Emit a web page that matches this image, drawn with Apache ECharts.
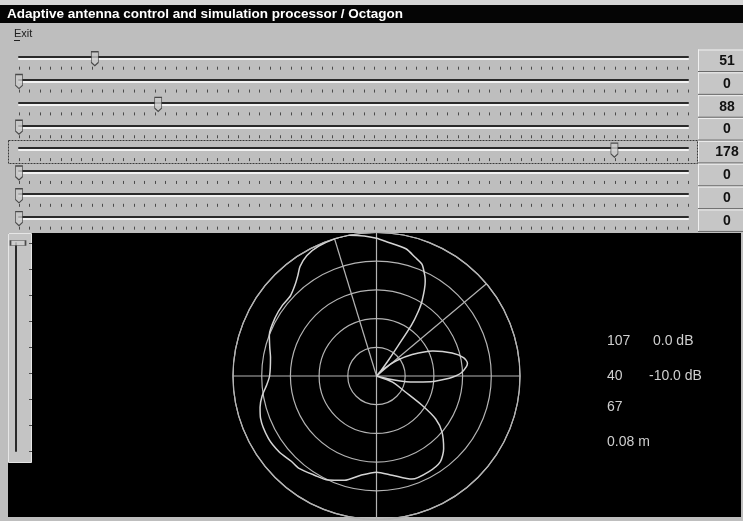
<!DOCTYPE html>
<html>
<head>
<meta charset="utf-8">
<script src="https://cdn.jsdelivr.net/npm/echarts@6/dist/echarts.min.js"></script>
<style>
  html, body { margin: 0; padding: 0; background: #bebebe; }
  #main { width: 743px; height: 521px; }
</style>
</head>
<body>
<div id="main"></div>
<script>
// --- data ---
var titleText = 'Adaptive antenna control and simulation processor / Octagon';
var menuText = 'Exit';

var sliderValues = [51, 0, 88, 0, 178, 0, 0, 0];
var sliderMax = [450, 450, 423, 423, 200, 200, 200, 200];
var sliderTickCount = 64;
var selectedSlider = 4;

var sideSliderValue = 0;
var sideSliderTicks = 8;

// antenna pattern, angle in degrees (ccw from east), level in % of outer ring
var patternAngles = [0, 2, 6, 8, 12, 17, 24, 31, 38, 43, 48, 51, 53, 54.5, 55.5, 57, 58.7, 62.7, 64, 67.8,
  72, 77, 86, 90, 95, 101, 107, 114, 120, 125, 128, 132, 137, 143, 150, 159, 165, 170, 180, 185,
  190, 195, 200, 210, 218, 225, 230, 238, 245, 253, 261, 270, 279, 289, 298.5, 306.6, 312.7, 319.5,
  324, 327.2, 331, 339, 344, 346, 348, 350, 354, 358, 360];
var patternLevels = [55, 59, 63, 64, 62, 55, 43, 29, 17, 8, 0, 5.5, 14, 26, 43, 53, 61, 74, 77, 84,
  87, 91, 94, 96, 98, 100, 100, 99, 97, 93, 89, 85, 82, 82, 81.5, 80, 77, 75, 74.5, 77,
  81, 84, 86, 87, 86, 84, 84, 81.5, 80, 76, 70, 67, 70, 76, 76, 74.5, 69, 60,
  51, 38, 23, 12, 0, 8, 17, 24, 38, 50, 55];

var markerAngles = [107, 40];
var markerLevels = ['0.0 dB', '-10.0 dB'];
var beamSeparation = 67;
var elementSpacing = '0.08 m';

// --- chart ---
var chart = echarts.init(document.getElementById('main'));

var thumbPath = 'path://M0,0 L6,0 L6,10 L3,13 L0,10 Z';
var grids = [], xAxes = [], yAxes = [], series = [];

sliderValues.forEach(function (v, i) {
  var top = 56.7 + i * 22.85;
  grids.push({ left: 19, right: 55, top: top, height: 13, containLabel: false, outerBoundsMode: 'none' });
  xAxes.push({
    gridIndex: i, type: 'value', min: 0, max: sliderMax[i], position: 'top',
    axisLine: { show: true, onZero: false, lineStyle: { color: '#2a2a2a', width: 2, shadowColor: '#f2f2f2', shadowOffsetY: 2 } },
    axisTick: { show: false }, axisLabel: { show: false }, splitLine: { show: false }
  });
  xAxes.push({
    gridIndex: i, type: 'value', min: 0, max: sliderTickCount, interval: 1, position: 'bottom',
    axisLine: { show: false, onZero: false },
    axisTick: { show: true, inside: true, length: 3, lineStyle: { color: '#4a4a4a' } },
    axisLabel: { show: false }, splitLine: { show: false }
  });
  yAxes.push({ gridIndex: i, type: 'value', min: 0, max: 1, show: false });
  series.push({
    type: 'scatter', xAxisIndex: 2 * i, yAxisIndex: i, data: [[v, 1]],
    symbol: thumbPath, symbolSize: [7, 14], symbolOffset: [0, 2], clip: false, silent: true,
    itemStyle: { color: '#cacaca', borderColor: '#2a2a2a', borderWidth: 1 }, z: 5
  });
});

// vertical slider on the left
var sideGrid = grids.length;
grids.push({ left: 16, top: 243, width: 13, height: 208, containLabel: false, outerBoundsMode: 'none' });
xAxes.push({ gridIndex: sideGrid, type: 'value', min: 0, max: 1, show: false });
yAxes.push({
  gridIndex: sideGrid, type: 'value', min: 0, max: sideSliderTicks, inverse: true, position: 'left',
  axisLine: { show: true, onZero: false, lineStyle: { color: '#2a2a2a', width: 2 } },
  axisTick: { show: false }, axisLabel: { show: false }, splitLine: { show: false }
});
yAxes.push({
  gridIndex: sideGrid, type: 'value', min: 0, max: sideSliderTicks, interval: 1, inverse: true, position: 'right',
  axisLine: { show: false, onZero: false },
  axisTick: { show: true, length: 3, lineStyle: { color: '#4a4a4a' } },
  axisLabel: { show: false }, splitLine: { show: false }
});
series.push({
  type: 'scatter', xAxisIndex: xAxes.length - 1, yAxisIndex: yAxes.length - 2,
  data: [[0, sideSliderValue]], symbol: 'rect', symbolSize: [15, 5], symbolOffset: [2, 0],
  clip: false, silent: true, itemStyle: { color: '#d0d0d0', borderColor: '#2a2a2a', borderWidth: 1 }, z: 5
});

// polar pattern
var ringColor = '#b4b4b4';
series.push({
  type: 'line', coordinateSystem: 'polar', polarIndex: 0,
  data: patternAngles.map(function (a, i) { return [patternLevels[i], a]; }),
  showSymbol: false, smooth: 0.25, silent: true,
  lineStyle: { color: '#d4d4d4', width: 1.5 }, z: 4
});
markerAngles.forEach(function (a) {
  series.push({
    type: 'line', coordinateSystem: 'polar', polarIndex: 0,
    data: [[0, a], [100, a]], showSymbol: false, silent: true,
    lineStyle: { color: ringColor, width: 1.2 }, z: 3
  });
});

// static window chrome + texts
var graphics = [
  { type: 'rect', shape: { x: 0, y: 0, width: 743, height: 5 }, style: { fill: '#d6d6d6' }, z: -10 },
  { type: 'rect', shape: { x: 0, y: 5, width: 743, height: 18 }, style: { fill: '#050505' }, z: -10 },
  { type: 'text', x: 7, y: 14, style: { text: titleText, fill: '#ffffff', font: 'bold 13.5px "Liberation Sans", Arial, sans-serif', textVerticalAlign: 'middle' }, z: 100 },
  { type: 'text', x: 14, y: 34, style: { text: menuText, fill: '#202020', font: '11px "Liberation Sans", Arial, sans-serif', textVerticalAlign: 'middle' }, z: 100 },
  { type: 'line', shape: { x1: 14, y1: 40.5, x2: 20, y2: 40.5 }, style: { stroke: '#202020', lineWidth: 1 }, z: 100 },
  { type: 'rect', shape: { x: 8.5, y: 140.5, width: 689, height: 23 }, style: { fill: null, stroke: '#3a3a3a', lineWidth: 1, lineDash: [2, 1] }, z: -5 },
  { type: 'rect', shape: { x: 8, y: 233, width: 733, height: 284 }, style: { fill: '#000000' }, z: -10 },
  { type: 'rect', shape: { x: 8.5, y: 233.5, width: 23, height: 229 }, style: { fill: '#c4c4c4', stroke: '#e6e6e6', lineWidth: 1 }, z: -9 }
];

sliderValues.forEach(function (v, i) {
  var top = 49.5 + i * 22.85;
  graphics.push({ type: 'rect', shape: { x: 698, y: top, width: 60, height: 22.85 }, style: { fill: '#c6c6c6' }, z: -8 });
  graphics.push({ type: 'line', shape: { x1: 698, y1: top + 0.5, x2: 743, y2: top + 0.5 }, style: { stroke: '#f0f0f0', lineWidth: 1 }, z: -7 });
  graphics.push({ type: 'line', shape: { x1: 698.5, y1: top, x2: 698.5, y2: top + 22 }, style: { stroke: '#f0f0f0', lineWidth: 1 }, z: -7 });
  graphics.push({ type: 'line', shape: { x1: 698, y1: top + 22, x2: 743, y2: top + 22 }, style: { stroke: '#6a6a6a', lineWidth: 1 }, z: -7 });
  graphics.push({
    type: 'text', x: 727, y: top + 11.5,
    style: { text: String(v), fill: '#111111', font: 'bold 14px "Liberation Sans", Arial, sans-serif', textAlign: 'center', textVerticalAlign: 'middle' },
    z: 100
  });
});

var readouts = [
  [String(markerAngles[0]), markerLevels[0]],
  [String(markerAngles[1]), markerLevels[1]],
  [String(beamSeparation), ''],
  [elementSpacing, '']
];
var readoutY = [341, 376, 407.5, 442.5];
readouts.forEach(function (r, i) {
  var font = '14px "Liberation Sans", Arial, sans-serif';
  graphics.push({ type: 'text', x: 607, y: readoutY[i], style: { text: r[0], fill: '#cfcfcf', font: font, textVerticalAlign: 'middle' }, z: 100 });
  if (r[1]) {
    graphics.push({ type: 'text', x: r[1].charAt(0) === '-' ? 649 : 653, y: readoutY[i], style: { text: r[1], fill: '#cfcfcf', font: font, textVerticalAlign: 'middle' }, z: 100 });
  }
});

var option = {
  animation: false,
  backgroundColor: '#bebebe',
  grid: grids,
  xAxis: xAxes,
  yAxis: yAxes,
  polar: { center: [376.5, 376], radius: 143.5 },
  angleAxis: {
    type: 'value', min: 0, max: 360, interval: 90, startAngle: 0, clockwise: false,
    axisLine: { show: true, lineStyle: { color: ringColor, width: 1.2 } },
    axisTick: { show: false }, axisLabel: { show: false },
    splitLine: { show: true, lineStyle: { color: ringColor, width: 1.2 } }, z: 2
  },
  radiusAxis: {
    type: 'value', min: 0, max: 100, interval: 20,
    axisLine: { show: false }, axisTick: { show: false }, axisLabel: { show: false },
    splitLine: { show: true, lineStyle: { color: ringColor, width: 1.2 } }, z: 2
  },
  graphic: { elements: graphics },
  series: series
};

chart.setOption(option);
</script>
</body>
</html>
